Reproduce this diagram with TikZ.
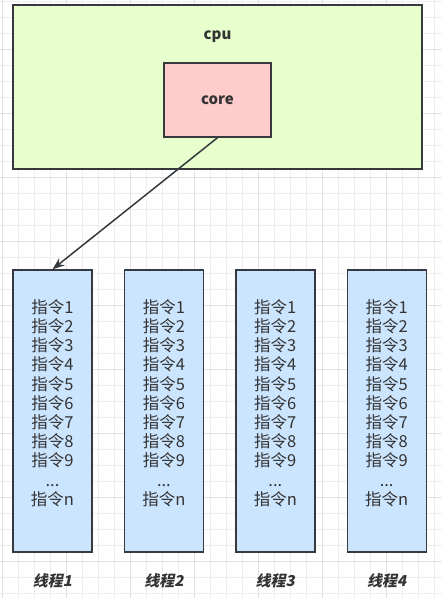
\documentclass[tikz,border=0pt]{standalone}
\usepackage{fontspec}
\usepackage{xcolor}
\usepackage{tikz}
\usetikzlibrary{arrows.meta, positioning}
\newfontfamily\cjk{Noto Sans CJK SC}
\newfontfamily\cjkslant{Noto Sans CJK SC}[FakeSlant=0.2]
\definecolor{ink}{HTML}{36393D}
\definecolor{txt}{HTML}{333333}
\definecolor{cgreen}{HTML}{E6FFCC}
\definecolor{cred}{HTML}{FFCCCC}
\definecolor{cblue}{HTML}{CCE5FF}
\definecolor{gminor}{HTML}{EDEDED}
\definecolor{gmajor}{HTML}{E2E2E2}

\begin{document}
\begin{tikzpicture}[x=1pt, y=-1pt, node distance=31pt,
    font=\cjk\fontsize{16.5}{19.2}\selectfont, text=txt,
    box/.style={draw=ink, line width=1.4pt, inner sep=0pt},
    thread/.style={box, fill=cblue, minimum width=79pt, minimum height=282pt},
    instr/.style={align=center, inner sep=0pt},
    tname/.style={font=\cjkslant\bfseries\fontsize{15}{18}\selectfont},
    gridline/.style={line width=0.6pt}]
  \useasboundingbox (0,0) rectangle (442,598);
  \fill[white] (0,0) rectangle (442,598);
  % background grid
  \foreach \gx in {2,18,...,442} \draw[gridline, gminor] (\gx,0) -- (\gx,598);
  \foreach \gy in {1,17,...,598} \draw[gridline, gminor] (0,\gy) -- (442,\gy);
  \foreach \gx in {2,66,...,442} \draw[gridline, gmajor] (\gx,0) -- (\gx,598);
  \foreach \gy in {49,113,...,598} \draw[gridline, gmajor] (0,\gy) -- (442,\gy);

  \node[box, fill=cgreen, minimum width=409pt, minimum height=164pt] (cpu) at (217.5,87) {};
  \node[font=\cjk\bfseries\fontsize{15}{18}\selectfont] (cpulbl) at (217.5,37) {cpu};
  \node[box, fill=cred, minimum width=107pt, minimum height=74pt,
        font=\cjk\bfseries\fontsize{15}{18}\selectfont] (core) at (217.5,100) {core};

  \node[thread] (t1) at (52.5,411) {};
  \node[thread, right=of t1] (t2) {};
  \node[thread, right=of t2] (t3) {};
  \node[thread, right=of t3] (t4) {};
  \foreach \i in {1,2,3,4} {
    \node[instr] (i\i) at ([yshift=8pt]t\i.center)
      {指令1\\指令2\\指令3\\指令4\\指令5\\指令6\\指令7\\指令8\\指令9\\...\\指令n};
    \node[tname] (n\i) at (t\i.center |- 0,581) {线程\i};
  }

  \draw[-{Stealth[length=12pt, width=9pt]}, ink, line width=1.5pt] (core.south) -- (t1.north);
\end{tikzpicture}
\end{document}
